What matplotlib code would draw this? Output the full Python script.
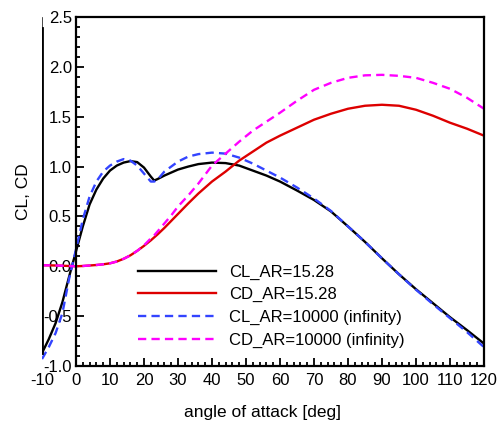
import numpy as np
import matplotlib
matplotlib.use("Agg")
import matplotlib.pyplot as plt
from matplotlib.ticker import FixedLocator, FormatStrFormatter

plt.rcParams['font.family'] = ['Liberation Sans', 'DejaVu Sans']
plt.rcParams['axes.unicode_minus'] = False

angle = [-10, -8, -6, -4, -2, 0, 2, 4, 6, 8, 10, 12, 14, 16, 18, 20, 22, 23, 24, 26,
         28, 30, 33, 36, 40, 44, 48, 52, 56, 60, 65, 70, 75, 80, 85, 90, 95, 100,
         105, 110, 115, 120]

cl_ar15 = [-0.87, -0.73, -0.57, -0.36, -0.10, 0.15, 0.40, 0.62, 0.77, 0.88, 0.96, 1.01,
           1.04, 1.055, 1.045, 0.99, 0.90, 0.86, 0.875, 0.91, 0.94, 0.97, 1.00, 1.025,
           1.04, 1.035, 1.01, 0.96, 0.91, 0.85, 0.76, 0.665, 0.55, 0.40, 0.245, 0.08,
           -0.08, -0.23, -0.37, -0.51, -0.64, -0.775]

cd_ar15 = [0.01, 0.01, 0.008, 0.006, 0.003, 0.0, 0.003, 0.008, 0.013, 0.02, 0.03, 0.048,
           0.075, 0.11, 0.155, 0.205, 0.26, 0.29, 0.32, 0.385, 0.455, 0.525, 0.63, 0.73,
           0.85, 0.95, 1.06, 1.15, 1.24, 1.31, 1.39, 1.47, 1.53, 1.58, 1.61, 1.62,
           1.61, 1.57, 1.51, 1.44, 1.38, 1.31]

cl_inf = [-0.93, -0.81, -0.67, -0.47, -0.12, 0.17, 0.47, 0.70, 0.85, 0.95, 1.01, 1.05,
          1.075, 1.06, 1.01, 0.93, 0.85, 0.85, 0.87, 0.95, 1.00, 1.05, 1.10, 1.125,
          1.14, 1.13, 1.09, 1.03, 0.96, 0.89, 0.79, 0.68, 0.555, 0.40, 0.245, 0.08,
          -0.08, -0.235, -0.38, -0.52, -0.66, -0.81]

cd_inf = [0.01, 0.01, 0.008, 0.006, 0.003, 0.0, 0.003, 0.008, 0.013, 0.02, 0.03, 0.048,
          0.075, 0.11, 0.155, 0.21, 0.28, 0.31, 0.35, 0.43, 0.51, 0.60, 0.71, 0.83,
          1.01, 1.13, 1.25, 1.36, 1.45, 1.54, 1.66, 1.77, 1.84, 1.89, 1.915, 1.92,
          1.91, 1.89, 1.84, 1.78, 1.69, 1.58]

labels = ["CL_AR=15.28", "CD_AR=15.28", "CL_AR=10000 (infinity)", "CD_AR=10000 (infinity)"]
xticks = np.arange(-10, 121, 10)
yticks = np.arange(-1.0, 2.51, 0.5)

fig = plt.figure(figsize=(5.03, 4.21), dpi=100)
ax = fig.add_axes([0.0835, 0.1306, 0.8787, 0.829])

ax.plot(angle, cl_ar15, color='black', lw=1.7, label=labels[0])
ax.plot(angle, cd_ar15, color='#dd0000', lw=1.7, label=labels[1])
ax.plot(angle, cl_inf, color='#3344ff', lw=1.7, ls=(0, (3.5, 2.2)), label=labels[2])
ax.plot(angle, cd_inf, color='#ff00ff', lw=1.7, ls=(0, (3.5, 2.2)), label=labels[3])

ax.set_xlim(-10, 120)
ax.set_ylim(-1.0, 2.5)

for s in ['top', 'bottom', 'left', 'right']:
    ax.spines[s].set_linewidth(1.6)
ax.spines['left'].set_position(('data', 0))
ax.spines['top'].set_bounds(0, 120)
ax.spines['bottom'].set_bounds(0, 120)

# extra axis line at the left data limit
ax.axvline(-10, ymin=(2.39 + 1.0) / 3.5, ymax=1.0, color='black', lw=0.5)
ax.axvline(-10, ymin=(-0.87 + 1.0) / 3.5, ymax=(2.39 + 1.0) / 3.5, color='black', lw=2.0)

ax.xaxis.set_major_locator(FixedLocator(xticks))
ax.xaxis.set_minor_locator(FixedLocator(np.arange(0, 121, 2)))
ax.yaxis.set_major_locator(FixedLocator(yticks))
ax.yaxis.set_minor_locator(FixedLocator(np.arange(-1.0, 2.51, 0.1)))
ax.yaxis.set_major_formatter(FormatStrFormatter('%.1f'))

ax.tick_params(axis='both', which='both', direction='in', top=False, right=False,
               labelsize=12, width=1.3, color='black')
ax.tick_params(axis='both', which='major', length=6)
ax.tick_params(axis='both', which='minor', length=3.2)
ax.tick_params(axis='x', which='major', pad=5)
ax.tick_params(axis='y', which='major', pad=3)
ax.xaxis.get_major_ticks()[0].tick1line.set_visible(False)

ax.set_xlabel("angle of attack [deg]", fontsize=12.5, labelpad=12)
ax.set_ylabel("CL, CD", fontsize=12.5)
ax.yaxis.set_label_coords(-0.025, 0.5)

ax.legend(frameon=False, fontsize=12, loc='upper left', bbox_to_anchor=(0.201, 0.31),
          handlelength=4.7, handletextpad=0.8, labelspacing=0.45, borderaxespad=0)

fig.savefig("out.png", dpi=100)
